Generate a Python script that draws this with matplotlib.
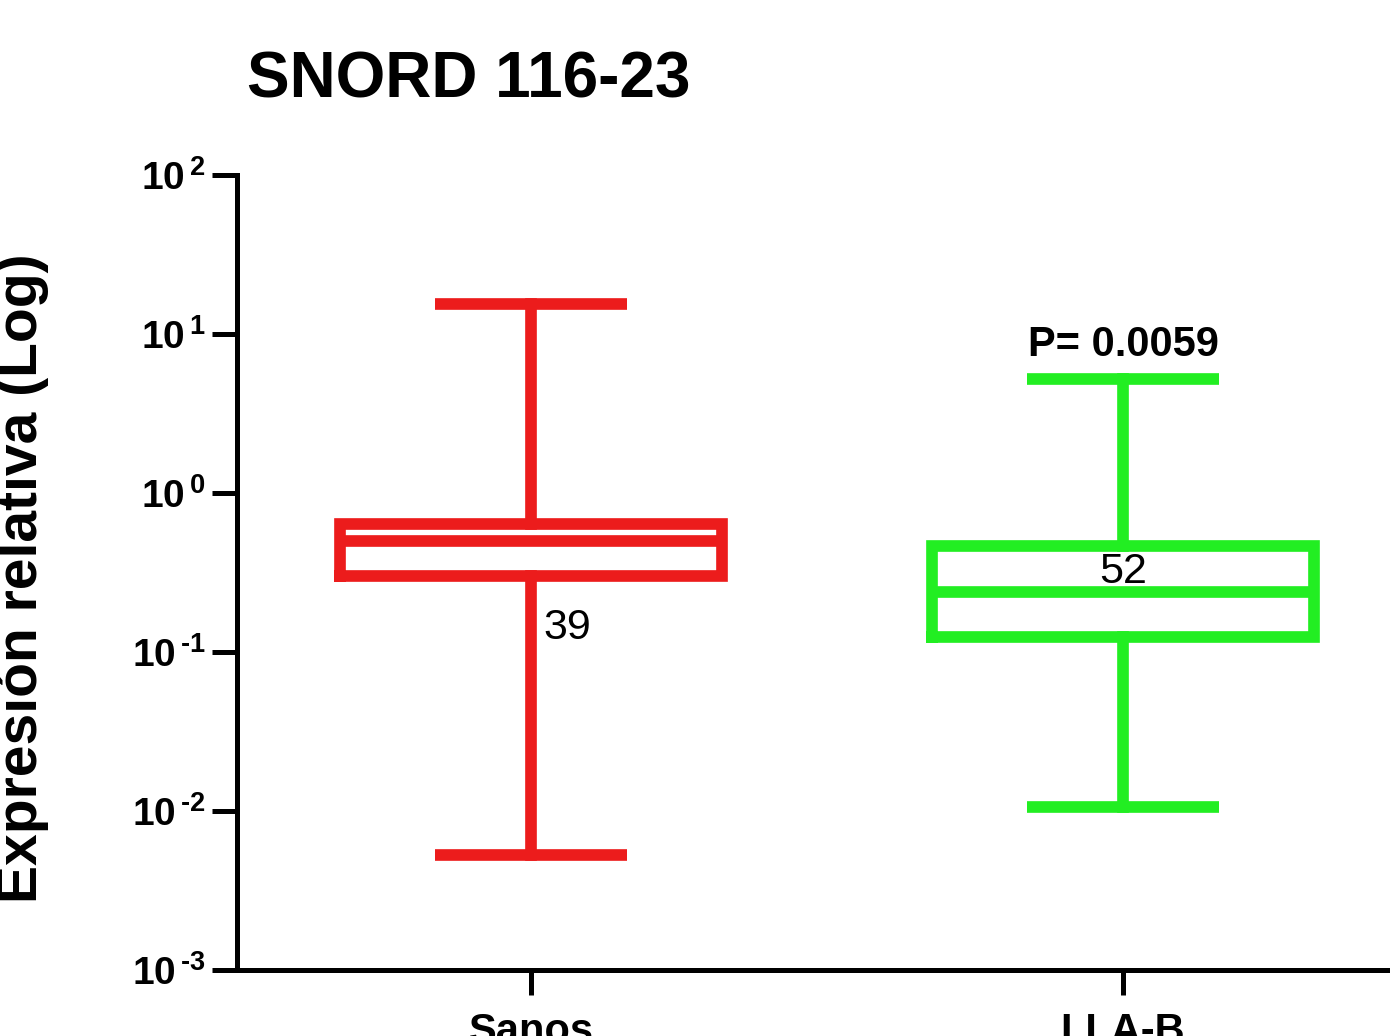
import numpy as np
import matplotlib
matplotlib.use("Agg")
import matplotlib.pyplot as plt

plt.rcParams['font.family'] = ['Liberation Sans', 'DejaVu Sans']
plt.rcParams['mathtext.fontset'] = 'custom'
plt.rcParams['mathtext.rm'] = 'Liberation Sans:bold'
plt.rcParams['mathtext.bf'] = 'Liberation Sans:bold'
plt.rcParams['lines.solid_joinstyle'] = 'miter'

# data (box = min / q1 / median / q3 / max)
grupos = ["Sanos", "LLA-B"]
minimo = [0.0053, 0.0106]
q1 = [0.30, 0.124]
mediana = [0.50, 0.238]
q3 = [0.64, 0.465]
maximo = [15.5, 5.2]
n_muestra = ["39", "52"]
colores = ["#ec1c1c", "#22ee22"]
y_ticks = [1e-3, 1e-2, 1e-1, 1e0, 1e1, 1e2]
y_ticklabels = [r"$\mathbf{10^{\,\text{-}3}}$", r"$\mathbf{10^{\,\text{-}2}}$", r"$\mathbf{10^{\,\text{-}1}}$",
                r"$\mathbf{10^{\,0}}$", r"$\mathbf{10^{\,1}}$", r"$\mathbf{10^{\,2}}$"]
p_valor = "P= 0.0059"

W, H = 1390, 1036
fig = plt.figure(figsize=(W/100, H/100), dpi=100)
ax = fig.add_axes([237/W, 1-970/H, 1-237/W, (970-175)/H])

lw = 8.4
for i in range(len(grupos)):
    st = [dict(whislo=minimo[i], q1=q1[i], med=mediana[i], q3=q3[i], whishi=maximo[i], fliers=[])]
    ax.bxp(st, positions=[i], widths=0.646, capwidths=0.325, showfliers=False,
           boxprops=dict(color=colores[i], lw=lw),
           medianprops=dict(color=colores[i], lw=lw, solid_capstyle='butt'),
           whiskerprops=dict(color=colores[i], lw=lw),
           capprops=dict(color=colores[i], lw=lw, solid_capstyle='butt'))

ax.set_yscale('log')
ax.set_ylim(1e-3, 1e2)
ax.set_xlim(-0.4966, 1.451)
ax.set_yticks(y_ticks)
ax.set_yticklabels(y_ticklabels)
ax.minorticks_off()
ax.set_xticks([0, 1])
ax.set_xticklabels(grupos, fontsize=30, fontweight='bold')
ax.tick_params(axis='y', length=18, width=3.6, labelsize=28, pad=5)
ax.tick_params(axis='x', length=18, width=3.6, pad=12)

for s in ['top', 'right']:
    ax.spines[s].set_visible(False)
for s in ['left', 'bottom']:
    ax.spines[s].set_linewidth(3.6)

# sample sizes and p value
ax.text(0.062, 0.142, n_muestra[0], fontsize=31, ha='center', va='center')
ax.text(1.0, 0.318, n_muestra[1], fontsize=31, ha='center', va='center')
ax.text(1.0, 8.5, p_valor, fontsize=30, fontweight='bold', ha='center', va='center')

fig.text(247/W, 1-80/H, "SNORD 116-23", fontsize=46, fontweight='bold', ha='left', va='center')
fig.text(22/W, 1-578/H, "Expresión relativa (Log)", fontsize=41, fontweight='bold',
         rotation=90, ha='center', va='center')

fig.savefig("out.png", dpi=100)
